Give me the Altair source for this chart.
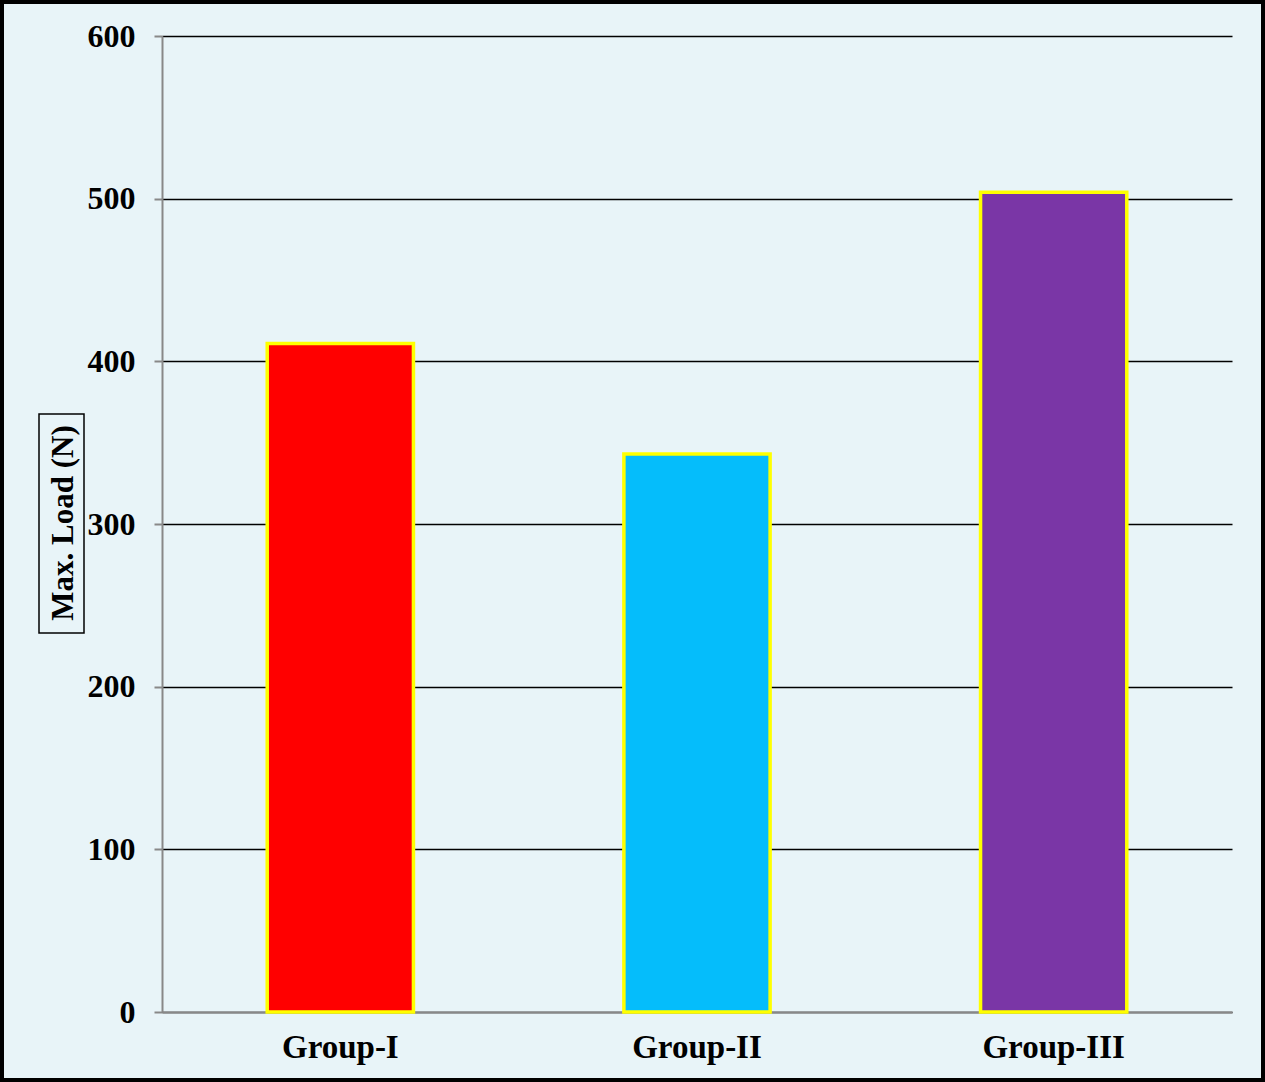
import altair as alt
import pandas as pd

groups = ["Group-I", "Group-II", "Group-III"]
max_load = [411, 343, 504]
bar_colors = ["#FF0000", "#05BDFB", "#7A36A6"]
y_ticks = [0, 100, 200, 300, 400, 500, 600]
y_title = ["Max. Load (N)"]

df = pd.DataFrame({"group": groups, "load": max_load, "color": bar_colors})
tdf = pd.DataFrame({"t": y_title})

W, H = 1070, 976
FONT = "Liberation Serif"

bars = alt.Chart(df).mark_bar(stroke="#FFFF00", strokeWidth=3.5).encode(
    x=alt.X("group:N", sort=groups,
            scale=alt.Scale(paddingInner=0.59, paddingOuter=0.295),
            axis=alt.Axis(title=None, labelAngle=0, labelFont=FONT, labelFontSize=33,
                          labelFontWeight="bold", labelColor="black", labelPadding=19,
                          ticks=False, domainColor="#888888", domainWidth=2, grid=False)),
    y=alt.Y("load:Q", scale=alt.Scale(domain=[0, 600]),
            axis=alt.Axis(values=y_ticks, title=None, grid=True, gridColor="black",
                          gridWidth=1.6, domainColor="#888888", domainWidth=2,
                          tickColor="#888888", tickSize=8, tickWidth=2,
                          labelFont=FONT, labelFontSize=32, labelFontWeight="bold",
                          labelColor="black", labelPadding=19)),
    color=alt.Color("color:N", scale=None),
)

title_box = alt.Chart(tdf).mark_rect(fill=None, stroke="black", strokeWidth=1.5).encode(
    x=alt.value(-123), x2=alt.value(-78), y=alt.value(378), y2=alt.value(597)
)

title_text = alt.Chart(tdf).mark_text(
    angle=270, font=FONT, fontSize=31, fontWeight="bold", color="black",
    align="center", baseline="middle"
).encode(x=alt.value(-98), y=alt.value(487), text="t:N")

frame = alt.Chart(tdf).mark_rect(fill=None, stroke="black", strokeWidth=4).encode(
    x=alt.value(-160), x2=alt.value(W + 31), y=alt.value(-34), y2=alt.value(H + 68)
)

chart = alt.layer(bars, title_box, title_text, frame).properties(
    width=W, height=H,
    autosize=alt.AutoSizeParams(type="none"),
    padding={"left": 162, "top": 36, "right": 33, "bottom": 70},
    background="#E8F4F8",
).configure_view(stroke=None)

chart.save("out.html", embed_options={"renderer": "svg", "actions": False})
